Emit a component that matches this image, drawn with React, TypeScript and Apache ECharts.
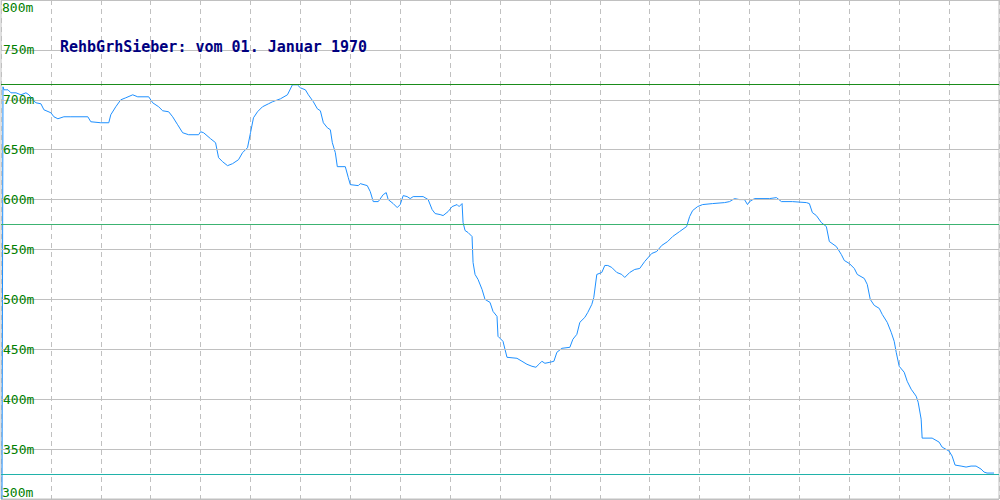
import React, { useEffect, useRef } from "react";
import * as echarts from "echarts";

const titleText = "RehbGrhSieber: vom 01. Januar 1970";
const yMin = 300;
const yMax = 800;
const yStep = 50;
const xMin = 0;
const xMax = 1000;
const xStep = 50;
const unit = "m";

const distance = [
  1, 2, 3, 7, 10, 15, 20, 25, 28, 32, 35, 40, 43, 50, 53, 57, 63, 70, 87, 90, 100, 108, 110, 115, 120, 125, 132, 137,
  148, 152, 158, 162, 168, 172, 177, 182, 188, 198, 200, 203, 210, 215, 218, 222, 227, 232, 238, 242, 247, 250, 253,
  257, 262, 268, 272, 280, 287, 292, 297, 300, 305, 308, 313, 317, 320, 323, 327, 330, 332, 335, 337, 345, 348, 350,
  358, 360, 367, 370, 373, 378, 383, 386, 388, 393, 397, 400, 403, 407, 410, 413, 423, 428, 432, 435, 440, 443, 448,
  452, 457, 459, 462, 463, 465, 468, 472, 473, 475, 478, 482, 485, 490, 493, 497, 498, 503, 505, 507, 517, 522, 527,
  532, 536, 539, 542, 545, 550, 554, 557, 562, 570, 573, 577, 580, 585, 588, 592, 594, 597, 602, 605, 608, 612, 617,
  622, 625, 630, 635, 640, 645, 652, 657, 662, 668, 673, 680, 687, 690, 693, 698, 703, 713, 725, 730, 735, 740, 745,
  748, 750, 755, 770, 777, 782, 793, 807, 810, 813, 817, 822, 827, 830, 837, 842, 845, 850, 855, 858, 865, 868, 871,
  875, 880, 883, 888, 892, 895, 897, 900, 905, 908, 912, 917, 919, 922, 923, 933, 940, 943, 950, 953, 956, 962, 967,
  972, 977, 982, 985, 988, 995,
];

const elevation = [
  300, 713, 710, 710, 707, 707, 705, 707, 705, 700, 697, 696, 690, 687, 683, 681, 683, 683, 683, 678, 677, 677, 685, 693,
  700, 702, 705, 703, 703, 697, 693, 689, 688, 683, 675, 667, 665, 665, 668, 667, 661, 657, 642, 638, 634, 636, 640,
  647, 652, 667, 682, 688, 693, 696, 698, 701, 705, 715, 715, 712, 710, 705, 698, 691, 689, 677, 672, 670, 657, 647,
  633, 633, 622, 615, 614, 616, 614, 608, 598, 598, 605, 607, 600, 596, 592, 595, 604, 603, 601, 603, 603, 600, 590,
  586, 585, 584, 588, 593, 595, 593, 596, 577, 569, 567, 563, 537, 525, 520, 510, 500, 497, 488, 483, 463, 458, 450,
  442, 441, 438, 435, 433, 432, 435, 438, 436, 437, 438, 447, 451, 452, 460, 465, 477, 482, 487, 495, 502, 525, 527,
  534, 534, 532, 527, 525, 522, 527, 530, 531, 538, 546, 548, 554, 558, 563, 568, 573, 583, 589, 593, 595, 596, 597,
  598, 601, 600, 600, 595, 598, 601, 601, 602, 598, 598, 597, 596, 587, 584, 577, 573, 558, 553, 545, 539, 536, 531,
  525, 521, 515, 500, 494, 491, 485, 477, 467, 458, 447, 433, 427, 418, 410, 403, 397, 380, 361, 361, 357, 352, 348,
  343, 334, 333, 332, 333, 333, 330, 327, 326, 326,
];

const refLineValues = [715.3, 575, 325];
const refLineColors = ["#1a8c1a", "#3cb371", "#20b2aa"];

export default function App() {
  const ref = useRef<HTMLDivElement>(null);

  useEffect(() => {
    if (!ref.current) return;
    const chart = echarts.init(ref.current, undefined, { renderer: "svg" });
    const labelFont = "'DejaVu Sans Mono', monospace";
    const data = distance.map((d, i) => [d, elevation[i]]);
    chart.setOption({
      animation: false,
      backgroundColor: "#ffffff",
      grid: {
        left: 0,
        right: 1,
        top: 0,
        bottom: 1,
        show: true,
        borderColor: "#c0c0c0",
        borderWidth: 1,
      },
      xAxis: {
        type: "value",
        min: xMin,
        max: xMax,
        interval: xStep,
        axisLine: { show: false },
        axisTick: { show: false },
        axisLabel: { show: false },
        splitLine: { show: true, lineStyle: { color: "#c0c0c0", type: [5, 4], width: 1 } },
      },
      yAxis: {
        type: "value",
        min: yMin,
        max: yMax,
        interval: yStep,
        axisLine: { show: false },
        axisTick: { show: false },
        splitLine: { show: true, lineStyle: { color: "#c0c0c0", width: 1 } },
        axisLabel: {
          inside: true,
          margin: 2,
          showMinLabel: false,
          showMaxLabel: false,
          color: "#008000",
          fontFamily: labelFont,
          fontSize: 13,
          verticalAlign: "middle",
          padding: [0, 0, 4, 0],
          formatter: (v: number) => `${v}${unit}`,
        },
        z: 5,
      },
      graphic: [
        {
          type: "text",
          left: 2,
          top: 1,
          z: 100,
          style: { text: `${yMax}${unit}`, fill: "#008000", font: `13px ${labelFont}` },
        },
        {
          type: "text",
          left: 2,
          top: 486,
          z: 100,
          style: { text: `${yMin}${unit}`, fill: "#008000", font: `13px ${labelFont}` },
        },
        {
          type: "text",
          left: 60,
          top: 39,
          z: 100,
          style: { text: titleText, fill: "#000080", font: `bold 15px ${labelFont}` },
        },
      ],
      series: [
        {
          type: "line",
          data,
          showSymbol: false,
          symbol: "none",
          lineStyle: { color: "#1e90ff", width: 1 },
          z: 3,
        },
        ...refLineValues.map((v, i) => ({
          type: "line",
          data: [],
          z: 2,
          markLine: {
            silent: true,
            symbol: "none",
            label: { show: false },
            lineStyle: { color: refLineColors[i], type: "solid", width: 1, opacity: 1 },
            data: [{ yAxis: v }],
          },
        })),
      ],
    });
    return () => chart.dispose();
  }, []);

  return (
    <div
      ref={ref}
      style={{ position: "fixed", left: 0, top: 0, width: 1000, height: 500, background: "#fff" }}
    />
  );
}
